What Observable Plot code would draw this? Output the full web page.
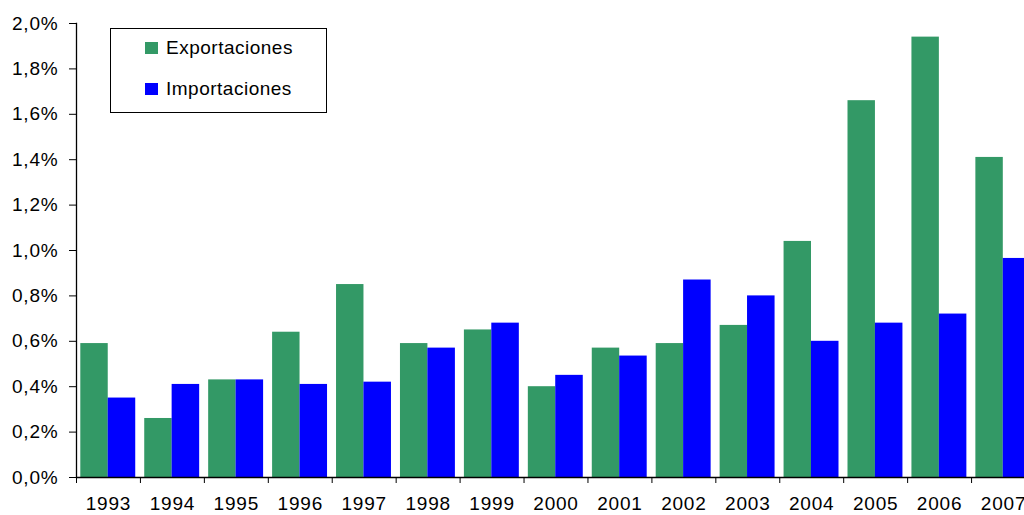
<!DOCTYPE html>
<html>
<head>
<meta charset="utf-8">
<script src="https://cdn.jsdelivr.net/npm/d3@7"></script>
<script src="https://cdn.jsdelivr.net/npm/@observablehq/plot@0.6"></script>
<style>
  html, body { margin: 0; padding: 0; background: #fff; overflow: hidden; width: 1024px; height: 515px; }
  #chart { position: relative; width: 1024px; height: 515px; overflow: hidden; }
  #chart svg { position: absolute; left: 0; top: 0; max-width: none !important; }
  #legend { position: absolute; left: 110px; top: 28px; width: 215px; height: 83px; border: 1px solid #000; background: #fff;
            font-family: "Liberation Sans", Arial, sans-serif; font-size: 19px; color: #000; }
  .row { position: absolute; left: 34px; display: flex; align-items: center; height: 24px; letter-spacing: 0.5px; }
  .sw { width: 13px; height: 12px; margin-right: 8px; }
  #chart svg text { letter-spacing: 0.8px; }
</style>
</head>
<body>
<div id="chart"></div>
<script>
const years = ["1993","1994","1995","1996","1997","1998","1999","2000","2001","2002","2003","2004","2005","2006","2007"];
const exportaciones = [0.59, 0.26, 0.43, 0.64, 0.85, 0.59, 0.65, 0.40, 0.57, 0.59, 0.67, 1.04, 1.66, 1.94, 1.41];
const importaciones = [0.35, 0.41, 0.43, 0.41, 0.42, 0.57, 0.68, 0.45, 0.535, 0.87, 0.80, 0.60, 0.68, 0.72, 0.965];
const series = ["Exportaciones", "Importaciones"];
const colors = ["#339966", "#0000FF"];
const yTicks = [0, 0.2, 0.4, 0.6, 0.8, 1.0, 1.2, 1.4, 1.6, 1.8, 2.0];

const expData = years.map((y, i) => ({year: y, value: exportaciones[i]}));
const impData = years.map((y, i) => ({year: y, value: importaciones[i]}));

const W = 1040, ML = 76, MR = 5;
const halfStep = (W - ML - MR) / years.length / 2;
const font = "Liberation Sans, Arial, sans-serif";

const chart = Plot.plot({
  width: W,
  height: 515,
  marginLeft: ML,
  marginRight: MR,
  marginTop: 23,
  marginBottom: 38,
  style: {fontFamily: font, fontSize: "19px", color: "#000", background: "transparent", overflow: "visible"},
  x: {type: "band", domain: years, padding: 0, round: false},
  y: {domain: [0, 2]},
  marks: [
    Plot.barY(expData, {x: "year", y: "value", fill: colors[0], insetLeft: 4.3, insetRight: 32.2}),
    Plot.barY(impData, {x: "year", y: "value", fill: colors[1], insetLeft: 31.7, insetRight: 4.7}),
    Plot.ruleY([0], {stroke: "#000", strokeWidth: 1.3}),
    Plot.frame({anchor: "left", stroke: "#000", strokeWidth: 1.3}),
    Plot.axisY({ticks: yTicks, tickSize: 7, tickPadding: 11, stroke: "#000", fill: "#000",
      tickFormat: d => d.toFixed(1).replace(".", ",") + "%", label: null, fontSize: 19}),
    Plot.axisX({tickSize: 0, tickPadding: 19, label: null, fontSize: 19, fill: "#000"}),
    Plot.axisX({tickSize: 6, tickFormat: () => "", label: null, dx: -halfStep, stroke: "#000"})
  ]
});
document.getElementById("chart").appendChild(chart);

const legend = document.createElement("div");
legend.id = "legend";
series.forEach((s, i) => {
  const row = document.createElement("div");
  row.className = "row";
  row.style.top = (i === 0 ? 7 : 47.5) + "px";
  const sw = document.createElement("div");
  sw.className = "sw";
  sw.style.background = colors[i];
  const t = document.createElement("span");
  t.textContent = s;
  row.appendChild(sw);
  row.appendChild(t);
  legend.appendChild(row);
});
document.getElementById("chart").appendChild(legend);
</script>
</body>
</html>
